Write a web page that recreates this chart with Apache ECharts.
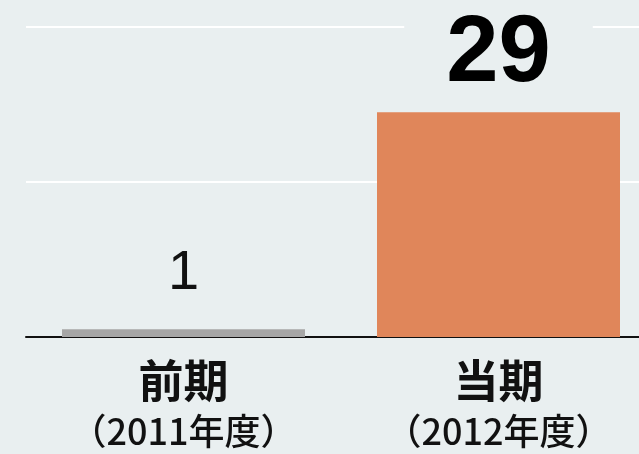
<!DOCTYPE html>
<html>
<head>
<meta charset="utf-8">
<script src="https://cdn.jsdelivr.net/npm/echarts@6/dist/echarts.min.js"></script>
<style>
  html, body { margin: 0; padding: 0; background: #e9eff0; }
  #chart { width: 639px; height: 454px; }
</style>
</head>
<body>
<div id="chart"></div>
<script>
const periods = ['前期', '当期']
const years = ['（2011年度）', '（2012年度）']
const values = [1, 29]
const barColors = ['#a6a6a6', '#e0865a']

const BG = '#e9eff0'

const chart = echarts.init(document.getElementById('chart'))

const option = {
  backgroundColor: BG,
  animation: false,
  grid: {
    left: 26,
    top: 27,
    width: 630,
    height: 310,
    containLabel: false,
    outerBoundsMode: 'none'
  },
  xAxis: {
    type: 'category',
    data: periods.map((p, i) => p + '\n' + years[i]),
    axisLine: { lineStyle: { color: '#111', width: 2 } },
    axisTick: { show: false },
    axisLabel: {
      margin: 14,
      formatter: (v) => {
        const parts = v.split('\n')
        return '{a|' + parts[0] + '}\n{b|' + parts[1] + '}'
      },
      rich: {
        a: {
          fontFamily: 'Noto Sans CJK JP',
          fontSize: 45,
          fontWeight: 'bold',
          color: '#111',
          lineHeight: 60
        },
        b: {
          fontFamily: 'Noto Sans CJK JP',
          fontSize: 36,
          fontWeight: 500,
          color: '#111',
          lineHeight: 40
        }
      }
    }
  },
  yAxis: {
    type: 'value',
    min: 0,
    max: 40,
    interval: 20,
    axisLabel: { show: false },
    axisLine: { show: false },
    axisTick: { show: false },
    splitLine: { lineStyle: { color: '#ffffff', width: 2 } }
  },
  series: [
    {
      type: 'bar',
      barWidth: 243,
      data: values.map((v, i) => ({
        value: v,
        itemStyle: { color: barColors[i] },
        label: i === 0
          ? {
              show: true,
              position: 'top',
              distance: 28,
              fontFamily: 'Liberation Sans',
              fontSize: 56,
              color: '#111'
            }
          : {
              show: true,
              position: 'top',
              distance: 10,
              fontFamily: 'Liberation Sans',
              fontSize: 94,
              fontWeight: 'bold',
              color: '#000',
              backgroundColor: BG,
              padding: [0, 42]
            }
      }))
    }
  ]
}

chart.setOption(option)
</script>
</body>
</html>
